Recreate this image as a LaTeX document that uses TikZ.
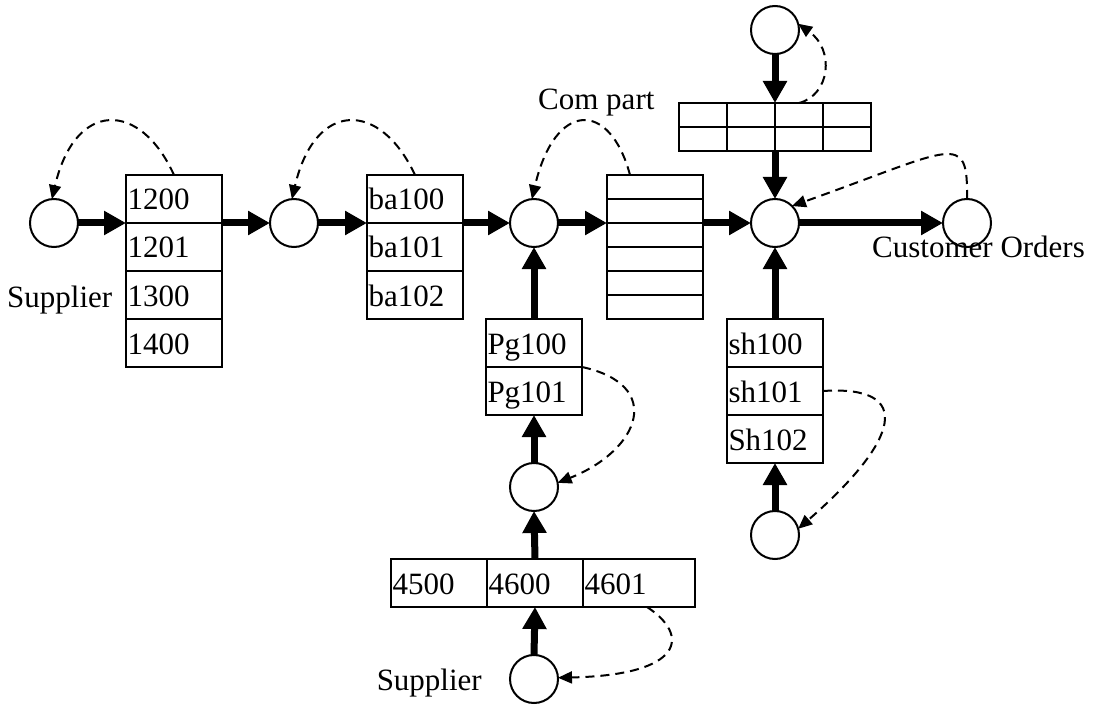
\documentclass[tikz,border=0pt]{standalone}
\usepackage{fontspec}
\setmainfont{Liberation Serif}
\usetikzlibrary{arrows.meta}
\begin{document}
\begin{tikzpicture}[x=1pt,y=-1pt, font=\fontsize{31}{37}\selectfont,
  cell/.style={draw, line width=2pt, minimum width=96pt, minimum height=48pt, inner sep=0pt, outer sep=0pt, anchor=north west, text width=93pt, align=left, text height=26pt, text depth=4pt},
  widecell/.style={cell, minimum width=112pt, text width=109pt},
  ecell/.style={draw, line width=2pt, minimum width=96pt, minimum height=24pt, inner sep=0pt, outer sep=0pt, anchor=north west},
  gcell/.style={ecell, minimum width=48pt},
  circ/.style={draw, circle, line width=2pt, minimum size=48pt, inner sep=0pt, outer sep=0pt},
  lbl/.style={inner sep=0pt},
  big/.style={line width=7pt, -{Triangle[length=22pt,width=23pt]}},
  darr/.style={line width=2pt, dash pattern=on 9pt off 6pt, -{Triangle[length=14pt,width=12pt]}}]
\useasboundingbox (0,0) rectangle (1096,706);

% boxes
\node[cell] (b1a) at (126,175) {1200};
\node[cell] (b1b) at (126,223) {1201};
\node[cell] (b1c) at (126,271) {1300};
\node[cell] (b1d) at (126,319) {1400};

\node[cell] (b2a) at (367,175) {ba100};
\node[cell] (b2b) at (367,223) {ba101};
\node[cell] (b2c) at (367,271) {ba102};

\node[cell] (pg1) at (486,319) {Pg100};
\node[cell] (pg2) at (486,367) {Pg101};

\node[cell] (sh1) at (727,319) {sh100};
\node[cell] (sh2) at (727,367) {sh101};
\node[cell] (sh3) at (727,415) {Sh102};

\node[cell] (n45) at (391,559) {4500};
\node[cell] (n46) at (487,559) {4600};
\node[widecell] (n461) at (583,559) {4601};

\foreach \i in {1,...,6} {
  \node[ecell] (cp\i) at (607,{175+24*(\i-1)}) {};
}
\foreach \c/\k in {a/0,b/1,c/2,d/3} {
  \node[gcell] (g1\c) at ({679+48*\k},103) {};
  \node[gcell] (g2\c) at ({679+48*\k},127) {};
}

% labels
\node[lbl, anchor=base west] (sup1) at (7,307) {Supplier};
\node[lbl, anchor=base east] (sup2) at (482,690) {Supplier};
\node[lbl, anchor=base west] (com) at (538,110) {Com part};
\node[lbl, anchor=base west] (cust) at (872,257) {Customer Orders};

% circles
\node[circ] (c1) at (54,223) {};
\node[circ] (c2) at (294,223) {};
\node[circ] (c3) at (534,223) {};
\node[circ] (c4) at (534,487) {};
\node[circ] (c5) at (534,679) {};
\node[circ] (ct) at (775,30) {};
\node[circ] (c6) at (775,223) {};
\node[circ] (c7) at (967,223) {};
\node[circ] (c8) at (775,535) {};

% thick arrows
\draw[big] (c1.east) -- (b1a.south west);
\draw[big] (b1a.south east) -- (c2.west);
\draw[big] (c2.east) -- (b2a.south west);
\draw[big] (b2a.south east) -- (c3.west);
\draw[big] (c3.east) -- (cp2.south west);
\draw[big] (cp2.south east) -- (c6.west);
\draw[big] (c6.east) -- (c7.west);
\draw[big] (ct.south) -- (g1c.north west);
\draw[big] (g2c.south west) -- (c6.north);
\draw[big] (sh1.north) -- (c6.south);
\draw[big] (c8.north) -- (sh3.south);
\draw[big] (pg1.north) -- (c3.south);
\draw[big] (c4.north) -- (pg2.south);
\draw[big] (n46.north) -- (c4.south);
\draw[big] (c5.north) -- (n46.south);

% dashed feedback arrows
\draw[darr] (b1a.north) .. controls (140,100) and (75,100) .. (c1.95);
\draw[darr] (b2a.north) .. controls (380,100) and (315,100) .. (c2.95);
\draw[darr] ([xshift=-25pt]cp1.north) .. controls (610,100) and (555,100) .. (c3.95);
\draw[darr] (g1c.north) .. controls (830,95) and (835,50) .. (ct.15);
\draw[darr] (c7.north) .. controls (968,130) and (955,148) .. (c6.45);
\draw[darr] (pg1.south east) .. controls (665,385) and (640,450) .. (c4.10);
\draw[darr] ([xshift=8pt]n461.south) .. controls (690,635) and (685,675) .. (c5.3);
\draw[darr] (sh2.east) .. controls (915,385) and (900,440) .. (c8.15);
\end{tikzpicture}
\end{document}
